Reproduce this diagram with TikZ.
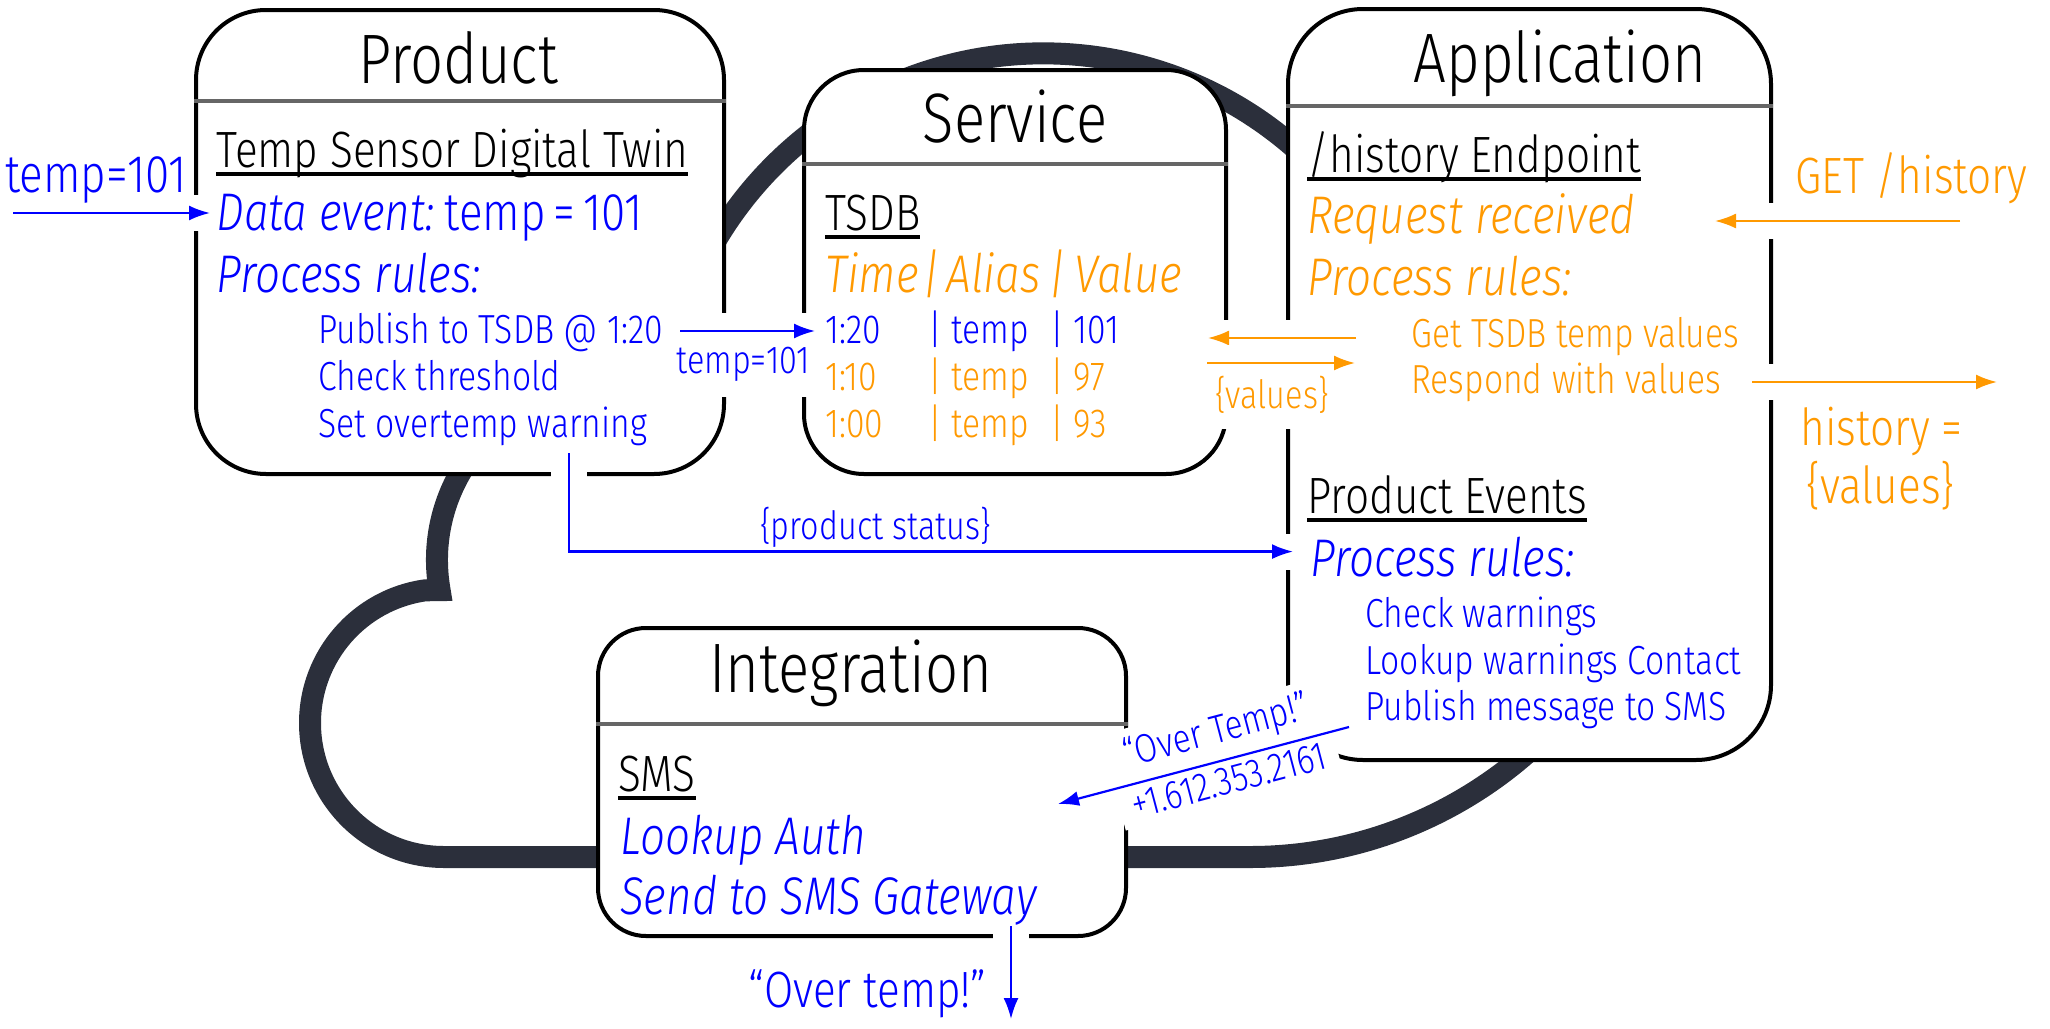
\documentclass[tikz,border=0pt]{standalone}
\usepackage{fontspec}
\setmainfont{Fira Sans}[UprightFont=* Light, ItalicFont=* Light Italic, FakeStretch=0.83]
\usetikzlibrary{arrows.meta,fit,positioning}

\definecolor{evblue}{RGB}{0,0,255}
\definecolor{reqorange}{RGB}{255,153,0}
\definecolor{cloudgray}{RGB}{43,47,59}
\definecolor{divgray}{RGB}{102,102,102}

\newcommand{\hdr}[1]{\setbox0\hbox{#1}\rlap{\raisebox{-4.5pt}{\rule{\wd0}{2pt}}}\box0}

\pgfdeclarelayer{back}
\pgfdeclarelayer{mid}
\pgfdeclarelayer{front}
\pgfsetlayers{back,mid,main,front}

\tikzset{
  box/.style={draw, line width=2pt, fill=white, inner sep=0pt},
  divider/.style={draw=divgray, line width=2pt},
  cloud/.style={draw=cloudgray, line width=11pt, line join=miter},
  boxtitle/.style={anchor=base, inner sep=0pt, font=\fontsize{35}{42}\selectfont},
  boxhead/.style={anchor=base west, inner sep=0pt, font=\fontsize{25.5}{30}\selectfont},
  bigtext/.style={anchor=base west, inner sep=0pt, font=\fontsize{26.5}{32}\selectfont},
  itemtext/.style={anchor=base west, inner sep=0pt, font=\fontsize{20.3}{24}\selectfont},
  arrowlabel/.style={anchor=base west, inner xsep=2pt, inner ysep=8pt, font=\fontsize{19.5}{22}\selectfont},
  diaglabel/.style={align=center, inner xsep=6pt, inner ysep=4pt, font=\fontsize{20}{26}\selectfont},
  flow/.style={-{Latex[length=10.5pt,width=7.5pt]}, line width=1.1pt,
    preaction={draw=white, line width=18pt, -}},
}

\begin{document}
\begin{tikzpicture}[x=0.5pt, y=-0.5pt]
  \useasboundingbox (0,0) rectangle (2050,1028);

  \begin{pgfonlayer}{back}
    \draw[cloud] (444,857) arc[start angle=90, end angle=262, radius=134]
      -- (439.6,590.1) arc[start angle=170.1, end angle=287.6, radius=175]
      arc[start angle=186.2, end angle=345, radius=381]
      -- (1614,647) arc[start angle=30, end angle=90, radius=420] -- cycle;
    \node[box, rounded corners=35pt, fit={(196,10) (724,474)}] (product) {};
    \node[box, rounded corners=30pt, fit={(804,70) (1226,474)}] (service) {};
    \node[box, rounded corners=37.5pt, fit={(1288,9) (1771,760)}] (app) {};
    \node[box, rounded corners=24pt, fit={(598,628) (1126,936)}] (integ) {};
    \foreach \b/\y in {product/101, service/164, app/106, integ/724}
      \draw[divider] (\b.west |- 0,\y) -- (\b.east |- 0,\y);
  \end{pgfonlayer}

  \begin{pgfonlayer}{front}
    \node[boxtitle] (ptitle) at (458,83) {Product};
    \node[boxhead] (twin) at (216,167) {\hdr{Temp Sensor Digital Twin}};
    \node[bigtext, evblue] (dataev) at (216,230) {\textit{Data event:}\kern5pt temp\kern4pt=\kern4pt101};
    \node[bigtext, evblue] (prules) at (216,292) {\textit{Process rules:}};
    \node[itemtext, evblue] (pub) at (318,343) {Publish to TSDB @ 1:20};
    \node[itemtext, evblue, below=23.5pt of pub.base west, anchor=base west] (thresh) {Check threshold};
    \node[itemtext, evblue, below=23.5pt of thresh.base west, anchor=base west] (warn) {Set overtemp warning};

    \node[boxtitle] (stitle) at (1015,142) {Service};
    \node[boxhead] (tsdb) at (825,230) {\hdr{TSDB}};
    \node[bigtext, reqorange] (cols) at (825,292) {\textit{Time\kern2pt|\kern3pt Alias\kern4pt|\kern4pt Value}};
    \foreach \t/\v/\c [count=\i] in {1:20/101/evblue, 1:10/97/reqorange, 1:00/93/reqorange}{
      \pgfmathsetmacro{\ry}{296+47*\i}
      \node[itemtext, \c] (r\i-a) at (825,\ry) {\t};
      \node[itemtext, \c] (r\i-b) at (928,\ry) {| temp};
      \node[itemtext, \c] (r\i-c) at (1050,\ry) {| \v};
    }

    \node[boxtitle] (atitle) at (1560,82) {Application};
    \node[boxhead] (hist) at (1307,172) {\hdr{/history Endpoint}};
    \node[bigtext, reqorange] (reqrcv) at (1307,233) {\textit{Request received}};
    \node[bigtext, reqorange] (arules) at (1307,295) {\textit{Process rules:}};
    \node[itemtext, reqorange] (gett) at (1411,347) {Get TSDB temp values};
    \node[itemtext, reqorange, below=23pt of gett.base west, anchor=base west] (resp) {Respond with values};
    \node[boxhead] (pevents) at (1307,513) {\hdr{Product Events}};
    \node[bigtext, evblue] (erules) at (1310,576) {\textit{Process rules:}};
    \node[itemtext, evblue] (chk) at (1365,627) {Check warnings};
    \node[itemtext, evblue, below=23.5pt of chk.base west, anchor=base west] (lookup) {Lookup warnings Contact};
    \node[itemtext, evblue, below=23pt of lookup.base west, anchor=base west] (smsmsg) {Publish message to SMS};

    \node[boxtitle] (ititle) at (851,692) {Integration};
    \node[boxhead] (smsh) at (618,791) {\hdr{SMS}};
    \node[bigtext, evblue] (auth) at (620,854) {\textit{Lookup Auth}};
    \node[bigtext, evblue] (gate) at (620,914) {\textit{Send to SMS Gateway}};

    \node[bigtext, evblue] (tin) at (5,192) {temp=101};
    \node[arrowlabel, evblue] (tmid) at (672,373) {temp=101};
    \node[arrowlabel, reqorange] (vals) at (1211,408) {\{values\}};
    \node[arrowlabel, evblue, inner ysep=0pt] (pstat) at (756,539) {\{product status\}};
    \node[boxhead, reqorange] (getl) at (1795,193) {GET /history};
    \node[boxhead, reqorange] (histl) at (1800,445) {history =};
    \node[boxhead, reqorange] (histv) at (1806,503) {\{values\}};
    \node[boxhead, evblue] (overl) at (748,1007) {“Over temp!”};
    \node[diaglabel, evblue, rotate=14.8] (dl) at (1222,754) {“Over Temp!”\\+1.612.353.2161};
  \end{pgfonlayer}

  \coordinate (inS) at (13,213);
  \coordinate (pubS) at (680,331);
  \coordinate (statS) at (569,453);
  \coordinate (getS) at (1960,221);
  \coordinate (getT) at (1715,221);
  \coordinate (respS) at (1752,382);
  \coordinate (respT) at (1997,382);
  \coordinate (qS) at (1356,338);
  \coordinate (qT) at (1208,338);
  \coordinate (aS) at (1207,363);
  \coordinate (aT) at (1355,363);
  \coordinate (smsS) at (1349,727);
  \coordinate (smsT) at (1058,804);
  \coordinate (downS) at (1011,926);
  \coordinate (downT) at (1011,1019);

  \draw[flow, evblue, shorten >=3pt] (inS) -- (inS -| dataev.west);
  \draw[flow, evblue, shorten >=5pt] (pubS) -- (pubS -| r1-a.west);
  \draw[flow, evblue] (statS) |- ([xshift=-8.5pt, yshift=2.5pt]erules.west);
  \draw[flow, reqorange] (getS) -- (getT);
  \draw[flow, reqorange] (respS) -- (respT);
  \draw[flow, reqorange] (qS) -- (qT);
  \draw[flow, reqorange] (aS) -- (aT);
  \draw[flow, evblue] (downS) -- (downT);
  \draw[flow, evblue] (smsS) -- (smsT);

  \begin{pgfonlayer}{mid}
    \foreach \n in {tmid, vals, dl}
      \fill[white] (\n.north west) -- (\n.north east) -- (\n.south east) -- (\n.south west) -- cycle;
  \end{pgfonlayer}
\end{tikzpicture}
\end{document}
